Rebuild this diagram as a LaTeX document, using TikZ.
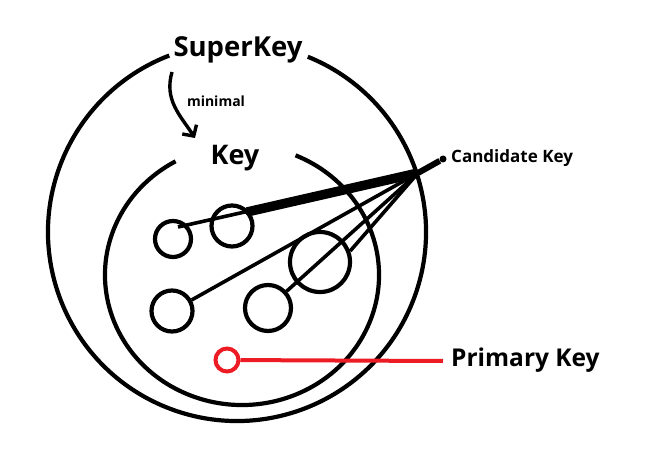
\documentclass[tikz,border=0pt]{standalone}
\usepackage{fontspec}
\setmainfont{Open Sans}
\usetikzlibrary{arrows.meta, positioning}
\definecolor{paintred}{RGB}{237,28,36}

\begin{document}
\begin{tikzpicture}[x=1pt, y=-1pt,
  ring/.style={draw=black, line width=4.2pt},
  keycircle/.style={circle, draw=black, line width=4.2pt, inner sep=0pt},
  link/.style={draw=black, line width=3.6pt},
  lbl/.style={font=\bfseries, inner sep=0pt}]
  \useasboundingbox (0,0) rectangle (665,468);
  % superkey and key sets
  \draw[ring] (237,232) ++(-68:189) arc[start angle=-68, end angle=249, radius=189];
  \draw[ring] (242,275) ++({137*cos(-67)},{130*sin(-67)}) arc[start angle=-67, end angle=241, x radius=137, y radius=130];
  \node[lbl, font=\fontsize{27.5}{32}\selectfont\bfseries] (superkey) at (238,50) {SuperKey};
  \node[lbl, font=\fontsize{27}{32}\selectfont\bfseries] (key) at (235,158) {Key};
  \node[lbl, font=\fontsize{14}{16}\selectfont\bfseries] (minimal) at (216,101) {minimal};
  \coordinate (minstart) at (172,72);
  \coordinate (minend) at (195,138);
  \draw[line width=3.4pt, -{Straight Barb[length=8pt, width=17pt]}] (minstart) .. controls (164,100) and (180,115) .. (minend);
  % candidate keys
  \node[keycircle, minimum size=36pt] (c1) at (173,239) {};
  \node[keycircle, minimum size=41pt] (c2) at (232,226) {};
  \node[keycircle, minimum size=60pt] (c3) at (320,262) {};
  \node[keycircle, minimum size=41pt] (c4) at (172,311) {};
  \node[keycircle, minimum size=46pt] (c5) at (268,308) {};
  \coordinate (hub) at (418,173);
  \coordinate (c1in) at (178,227);
  \coordinate (c2out) at (247,212);
  \node[circle, fill=black, inner sep=0pt, minimum size=7pt] (ck) at (443,159) {};
  \node[lbl, font=\fontsize{17}{20}\selectfont\bfseries, anchor=west] (cklabel) at (451,158) {Candidate Key};
  \draw[link] (c1in) -- (hub);
  \draw[black, line width=9.5pt] (c2out) -- (hub);
  \draw[link] (c4) -- (hub);
  \draw[link] (c5) -- (hub);
  \draw[link] (c3.20) -- (hub);
  \draw[black, line width=6pt] (hub) -- (ck);
  % primary key
  \node[circle, draw=paintred, line width=4pt, inner sep=0pt, minimum size=23pt] (pk) at (227,360) {};
  \coordinate (pkend) at (443,361);
  \draw[paintred, line width=4pt] (pk) -- (pkend);
  \node[lbl, font=\fontsize{24.5}{29}\selectfont\bfseries, anchor=west] (pklabel) at (451,360) {Primary Key};
\end{tikzpicture}
\end{document}
